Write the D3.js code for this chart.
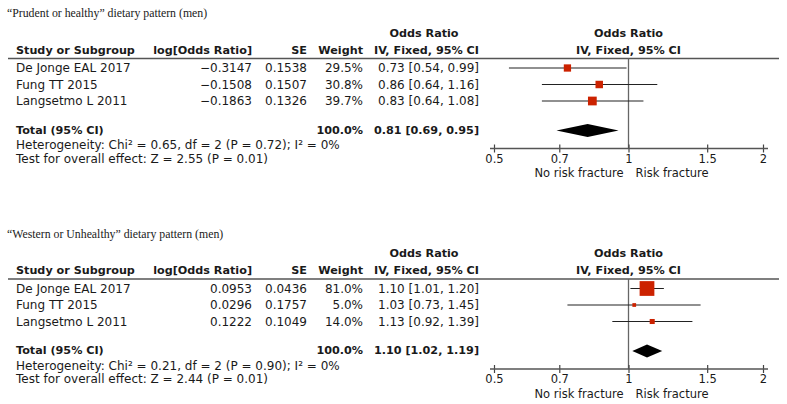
<!DOCTYPE html>
<html>
<head>
<meta charset="utf-8">
<script src="https://cdn.jsdelivr.net/npm/d3@7"></script>
<style>
  html, body { margin: 0; padding: 0; background: #fff; }
  svg { display: block; }
  .t { font-family: "DejaVu Sans", Verdana, sans-serif; fill: #1a1a1a; }
  .serif { font-family: "Liberation Serif", "Times New Roman", serif; fill: #1a1a1a; }
</style>
</head>
<body>
<svg id="chart" width="787" height="404"></svg>
<script>
// ---------- DATA ----------
const panelTitles = ["\u201cPrudent or healthy\u201d dietary pattern (men)", "\u201cWestern or Unhealthy\u201d dietary pattern (men)"];
const studies = ["De Jonge EAL 2017", "Fung TT 2015", "Langsetmo L 2011"];

const logOR1 = ["\u22120.3147", "\u22120.1508", "\u22120.1863"];
const se1 = ["0.1538", "0.1507", "0.1326"];
const weight1 = [29.5, 30.8, 39.7];
const or1 = [0.73, 0.86, 0.83];
const lo1 = [0.54, 0.64, 0.64];
const hi1 = [0.99, 1.16, 1.08];
const total1 = [0.81, 0.69, 0.95];
const het1 = ["0.65", "2", "0.72", "0%"];
const test1 = ["2.55", "0.01"];

const logOR2 = ["0.0953", "0.0296", "0.1222"];
const se2 = ["0.0436", "0.1757", "0.1049"];
const weight2 = [81.0, 5.0, 14.0];
const or2 = [1.10, 1.03, 1.13];
const lo2 = [1.01, 0.73, 0.92];
const hi2 = [1.20, 1.45, 1.39];
const total2 = [1.10, 1.02, 1.19];
const het2 = ["0.21", "2", "0.90", "0%"];
const test2 = ["2.44", "0.01"];

const tickValues = [0.5, 0.7, 1, 1.5, 2];
const tickLabels = ["0.5", "0.7", "1", "1.5", "2"];
const axisLabels = ["No risk fracture", "Risk fracture"];

const panels = [
  {title: panelTitles[0], logOR: logOR1, se: se1, weight: weight1, or: or1, lo: lo1, hi: hi1, total: total1, het: het1, test: test1},
  {title: panelTitles[1], logOR: logOR2, se: se2, weight: weight2, or: or2, lo: lo2, hi: hi2, total: total2, het: het2, test: test2}
];

// ---------- LAYOUT ----------
const svg = d3.select("#chart");
const x = d3.scaleLog().domain([0.5, 2]).range([494, 763]);
const box = d3.scaleLinear().domain([0, 100]).range([3, 17.5]);
const f2 = d3.format(".2f");
const fCI = (o, l, h) => `${f2(o)} [${f2(l)}, ${f2(h)}]`;

const col = {study: 16, logOR: 252, se: 307, weight: 363, ci: 479, ciCenter: 424};
const rowY = [68, 84.5, 101];
const FS = 12, FSB = 11.2;

panels.forEach((p, i) => {
  const g = svg.append("g").attr("transform", `translate(0,${i * 220.5})`);

  g.append("text").attr("class", "serif").attr("x", 7).attr("y", 13)
    .attr("dominant-baseline", "central").style("font-size", "11.8px").text(p.title);

  const txt = (xx, yy, s, anchor, bold, size) => g.append("text").attr("class", "t")
    .attr("x", xx).attr("y", yy).attr("dominant-baseline", "central")
    .attr("text-anchor", anchor || "start")
    .style("font-size", (size || (bold ? FSB : FS)) + "px")
    .style("font-weight", bold ? "bold" : "normal").text(s);

  // headers
  txt(col.ciCenter, 33, "Odds Ratio", "middle", true);
  txt(x(1), 33, "Odds Ratio", "middle", true);
  txt(col.study, 50, "Study or Subgroup", "start", true);
  txt(col.logOR, 50, "log[Odds Ratio]", "end", true);
  txt(col.se, 50, "SE", "end", true);
  txt(col.weight, 50, "Weight", "end", true);
  txt(col.ci, 50, "IV, Fixed, 95% CI", "end", true);
  txt(x(1), 50, "IV, Fixed, 95% CI", "middle", true);

  g.append("line").attr("x1", 8).attr("x2", 779).attr("y1", 58.5).attr("y2", 58.5)
    .attr("stroke", "#555").attr("stroke-width", 1.3);

  // rows
  studies.forEach((s, j) => {
    const y = rowY[j];
    txt(col.study, y, s);
    txt(col.logOR, y, p.logOR[j], "end");
    txt(col.se, y, p.se[j], "end");
    txt(col.weight, y, p.weight[j].toFixed(1) + "%", "end");
    txt(col.ci, y, fCI(p.or[j], p.lo[j], p.hi[j]), "end");
  });

  // totals
  txt(col.study, 130, "Total (95% CI)", "start", true);
  txt(col.weight, 130, "100.0%", "end", true);
  txt(col.ci, 130, fCI(p.total[0], p.total[1], p.total[2]), "end", true);

  g.append("text").attr("class", "t").attr("x", col.study).attr("y", 145)
    .attr("dominant-baseline", "central").style("font-size", FS + "px")
    .text(`Heterogeneity: Chi\u00b2 = ${p.het[0]}, df = ${p.het[1]} (P = ${p.het[2]}); I\u00b2 = ${p.het[3]}`);
  txt(col.study, 158.5, `Test for overall effect: Z = ${p.test[0]} (P = ${p.test[1]})`);

  // null line
  g.append("line").attr("x1", x(1)).attr("x2", x(1)).attr("y1", 58.5).attr("y2", 148.5)
    .attr("stroke", "#666").attr("stroke-width", 1.3);

  // CI lines + boxes
  studies.forEach((s, j) => {
    const y = rowY[j];
    g.append("line").attr("x1", x(p.lo[j])).attr("x2", x(p.hi[j])).attr("y1", y).attr("y2", y)
      .attr("stroke", "#222").attr("stroke-width", 1.1);
    const b = box(p.weight[j]);
    g.append("rect").attr("x", x(p.or[j]) - b / 2).attr("y", y - b / 2)
      .attr("width", b).attr("height", b).attr("fill", "#cc2200");
  });

  // diamond
  const dy = 130.5, dh = 6.5;
  g.append("path")
    .attr("d", `M${x(p.total[1])},${dy} L${x(p.total[0])},${dy - dh} L${x(p.total[2])},${dy} L${x(p.total[0])},${dy + dh} Z`)
    .attr("fill", "#000");

  // axis
  const ax = g.append("g").attr("transform", "translate(0,148.5)")
    .call(d3.axisBottom(x).tickValues(tickValues).tickFormat((d, k) => tickLabels[k])
      .tickSizeInner(4).tickSizeOuter(0).tickPadding(2));
  ax.select(".domain").remove();
  ax.selectAll(".tick line").attr("y1", -4).attr("y2", 4).attr("stroke", "#444").attr("stroke-width", 1.2);
  ax.selectAll(".tick text").attr("class", "t").style("font-family", "'DejaVu Sans', Verdana, sans-serif")
    .style("font-size", "11.5px").attr("fill", "#1a1a1a");
  ax.append("line").attr("x1", x(0.5) - 4).attr("x2", x(2) + 5).attr("y1", 0).attr("y2", 0)
    .attr("stroke", "#555").attr("stroke-width", 1.3);

  txt(x(1) - 5, 173, axisLabels[0], "end", false, 11.5);
  txt(x(1) + 7, 173, axisLabels[1], "start", false, 11.5);
});
</script>
</body>
</html>
